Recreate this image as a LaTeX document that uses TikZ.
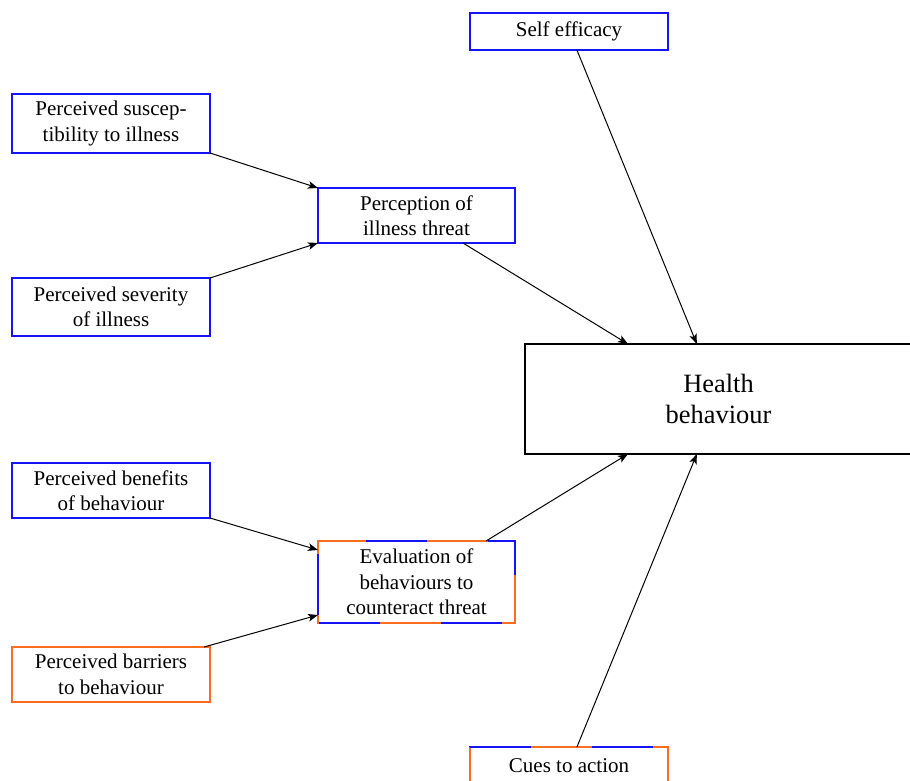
\documentclass[tikz,border=0pt]{standalone}
\usepackage{fontspec}
\setmainfont{Liberation Serif}
\usetikzlibrary{arrows.meta,calc}
\definecolor{bboxblue}{RGB}{20,20,245}
\definecolor{bboxorange}{RGB}{250,110,30}
\begin{document}
\begin{tikzpicture}[x=0.5pt,y=-0.5pt,
  box/.style={draw=bboxblue,line width=0.6pt,rectangle,inner sep=0pt,outer sep=0pt,align=center,
    font=\fontsize{10.5}{12.7}\selectfont},
  obox/.style={box,draw=bboxorange},
  dashover/.style={bboxblue,line width=0.6pt,dash pattern=on 30.5pt off 30.5pt},
  arr/.style={-{Stealth[length=5pt,width=3.8pt,inset=1.2pt]},line width=0.5pt}]
\useasboundingbox (0,0) rectangle (910,781);
\node[box,minimum width=99pt,minimum height=18.5pt] (se) at (569,31.5) {Self efficacy};
\node[box,minimum width=99pt,minimum height=29.5pt] (sus) at (111,123.5) {Perceived suscep-\\tibility to illness};
\node[box,minimum width=98.5pt,minimum height=27.5pt] (pt) at (416.5,215.5) {Perception of\\illness threat};
\node[box,minimum width=99pt,minimum height=29pt] (sev) at (111,307) {Perceived severity\\of illness};
\node[draw=black,line width=0.6pt,rectangle,inner sep=0pt,outer sep=0pt,align=center,
  minimum width=193.5pt,minimum height=55pt,font=\fontsize{13.2}{15.5}\selectfont] (hb) at (718.5,399) {Health\\behaviour};
\node[box,minimum width=99pt,minimum height=27.5pt] (ben) at (111,490.5) {Perceived benefits\\of behaviour};
\node[obox,minimum width=98.5pt,minimum height=41pt] (ev) at (416.5,582) {Evaluation of\\behaviours to\\counteract threat};
\draw[dashover,dash phase=57pt]
  (ev.south west) -- (ev.north west) -- (ev.north east) -- (ev.south east) -- (ev.south west);
\node[obox,minimum width=99pt,minimum height=27.5pt] (bar) at (111,674.5) {Perceived barriers\\to behaviour};
\node[obox,minimum width=99pt,minimum height=18.5pt] (cu) at (569,765.5) {Cues to action};
\draw[dashover,dash phase=42.5pt]
  (cu.south west) -- (cu.north west) -- (cu.north east) -- (cu.south east);
% arrows
\draw[arr] (sus.south east) -- (pt.north west);
\draw[arr] (sev.north east) -- (pt.south west);
\draw[arr] ($(pt.south west)!0.736!(pt.south east)$) -- ($(hb.north west)!0.266!(hb.north east)$);
\draw[arr] ($(se.south west)!0.54!(se.south east)$) -- ($(hb.north west)!0.444!(hb.north east)$);
\draw[arr] (ben.south east) -- ($(ev.north west)+(0,9)$);
\draw[arr] ($(bar.north west)!0.97!(bar.north east)$) -- ($(ev.south west)+(0,-8)$);
\draw[arr] ($(ev.north west)!0.853!(ev.north east)$) -- ($(hb.south west)!0.266!(hb.south east)$);
\draw[arr] ($(cu.north west)!0.54!(cu.north east)$) -- ($(hb.south west)!0.444!(hb.south east)$);
\end{tikzpicture}
\end{document}
